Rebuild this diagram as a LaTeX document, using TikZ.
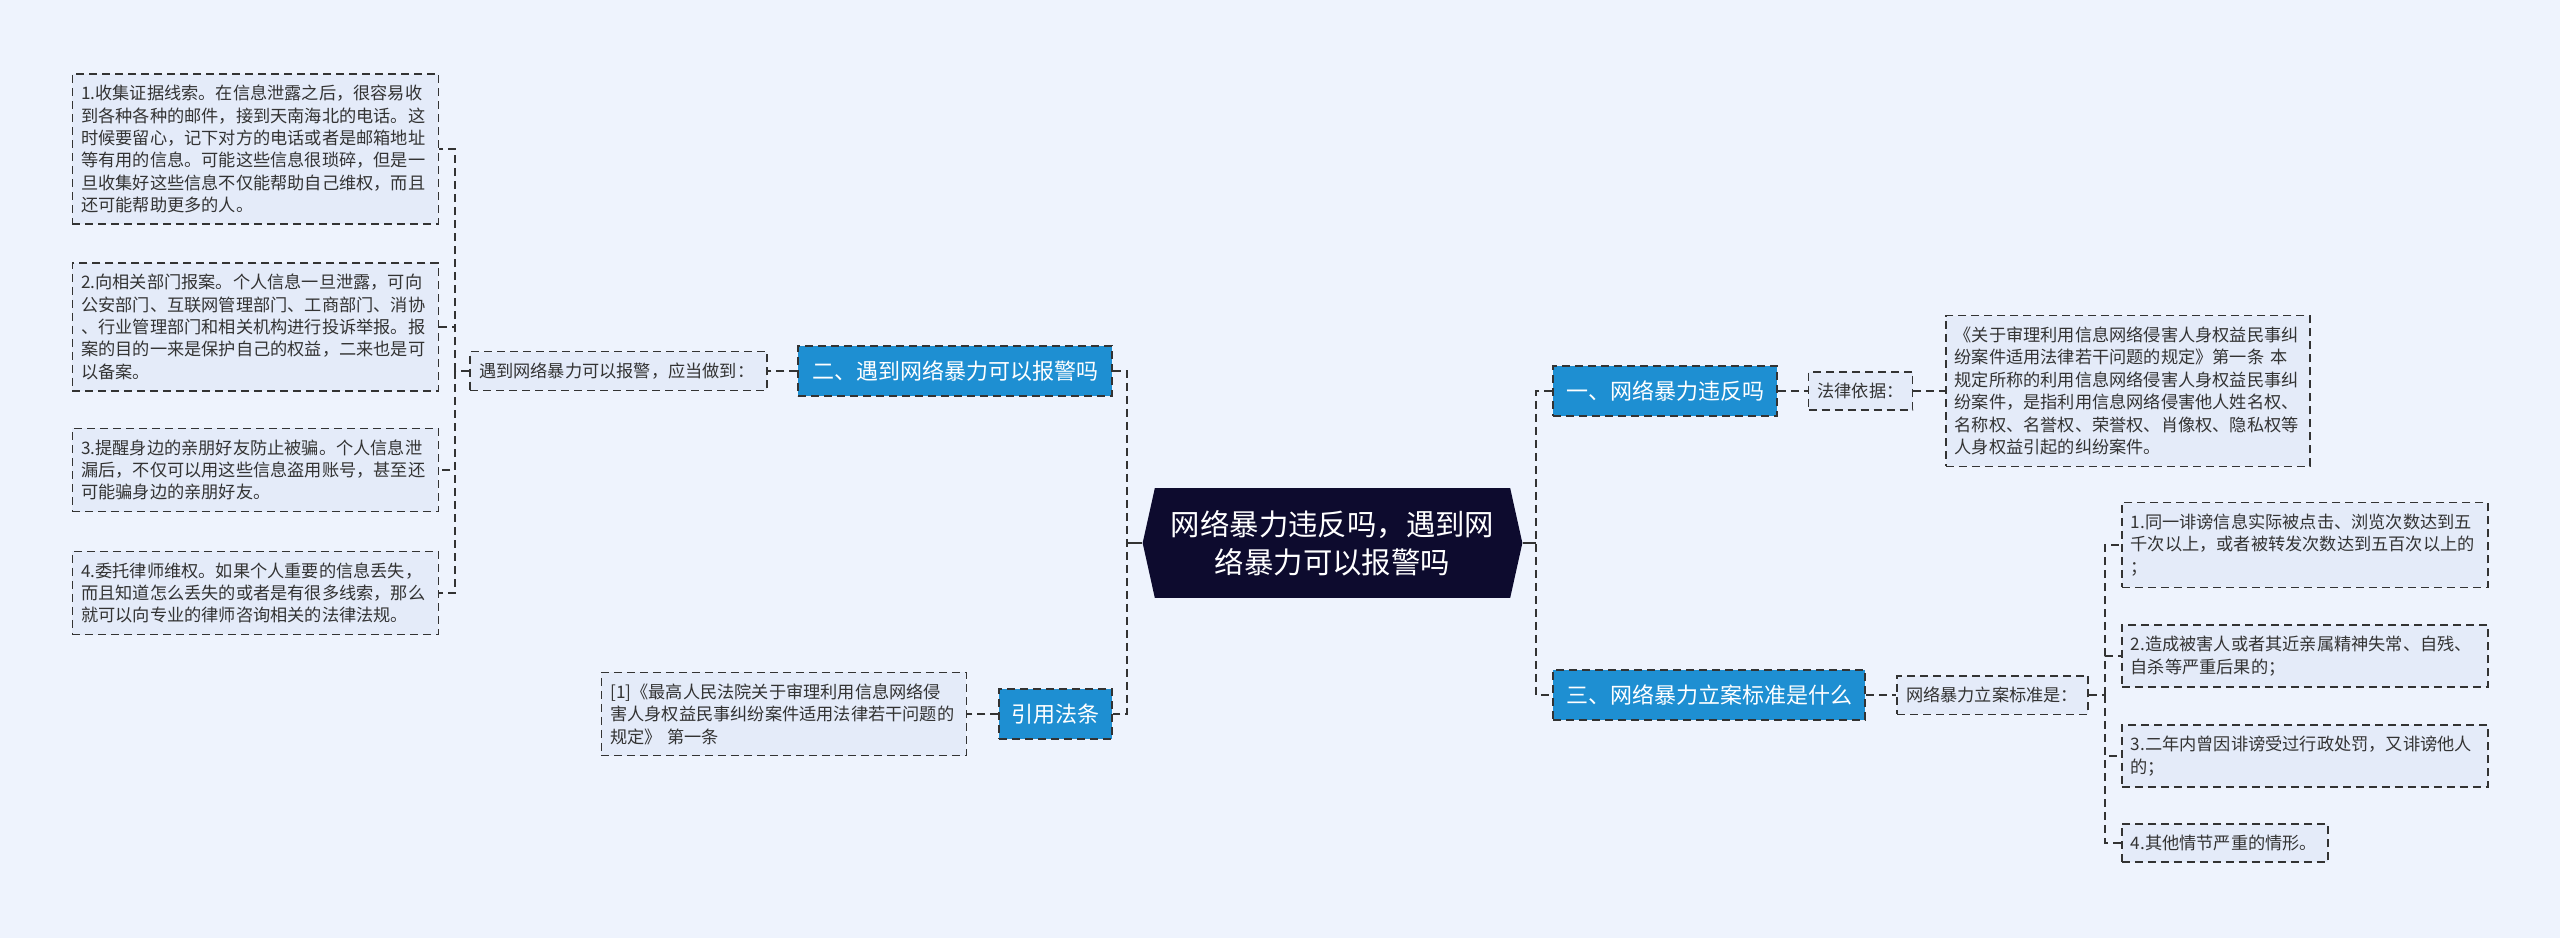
\documentclass[tikz,border=0pt]{standalone}
\usepackage{fontspec}
\setmainfont{Noto Sans CJK SC}
\usetikzlibrary{shapes.symbols}
\definecolor{bgcol}{HTML}{EEF3FD}
\definecolor{leafcol}{HTML}{E4EBF9}
\definecolor{topiccol}{HTML}{1E8FD2}
\definecolor{rootcol}{HTML}{0D0B2E}
\definecolor{edgecol}{HTML}{333333}
\tikzset{
  dashline/.style={draw=edgecol, line width=0.75pt, dash pattern=on 4pt off 2.5pt},
  leaf/.style={dashline, fill=leafcol, text=black!80, font=\fontsize{8.6}{11.2}\selectfont, align=left, inner xsep=4.5pt, inner ysep=5.6pt},
  topic/.style={dashline, fill=topiccol, text=white, font=\fontsize{11}{13}\selectfont, minimum height=25pt, inner xsep=0pt},
  rootnode/.style={signal, signal to=west and east, signal pointer angle=155, fill=rootcol, text=white, font=\fontsize{14.7}{19}\selectfont, align=center, inner xsep=8pt, inner ysep=11pt},
}
\begin{document}
\begin{tikzpicture}[x=0.5pt,y=-0.5pt]
\fill[bgcol] (0,0) rectangle (2560,938);
\node[rootnode] (root) at (1332.5,543) {网络暴力违反吗，遇到网\\络暴力可以报警吗};
\node[topic, minimum width=157pt] (two) at (955,371) {二、遇到网络暴力可以报警吗};
\node[topic, minimum width=56.5pt] (cite) at (1055.5,714) {引用法条};
\node[topic, minimum width=112pt] (one) at (1665,391) {一、网络暴力违反吗};
\node[topic, minimum width=156pt] (three) at (1709,695) {三、网络暴力立案标准是什么};
\node[leaf, text width=139.5pt] (ask) at (618.5,371) {遇到网络暴力可以报警，应当做到：};
\node[leaf, text width=174pt, anchor=east] (b1) at (439,149) {1.收集证据线索。在信息泄露之后，很容易收\\到各种各种的邮件，接到天南海北的电话。这\\时候要留心，记下对方的电话或者是邮箱地址\\等有用的信息。可能这些信息很琐碎，但是一\\旦收集好这些信息不仅能帮助自己维权，而且\\还可能帮助更多的人。};
\node[leaf, text width=174pt, anchor=east] (b2) at (439,327) {2.向相关部门报案。个人信息一旦泄露，可向\\公安部门、互联网管理部门、工商部门、消协\\、行业管理部门和相关机构进行投诉举报。报\\案的目的一来是保护自己的权益，二来也是可\\以备案。};
\node[leaf, text width=174pt, anchor=east] (b3) at (439,470) {3.提醒身边的亲朋好友防止被骗。个人信息泄\\漏后，不仅可以用这些信息盗用账号，甚至还\\可能骗身边的亲朋好友。};
\node[leaf, text width=174pt, anchor=east] (b4) at (439,593) {4.委托律师维权。如果个人重要的信息丢失，\\而且知道怎么丢失的或者是有很多线索，那么\\就可以向专业的律师咨询相关的法律法规。};
\node[leaf, text width=173.5pt, anchor=east] (citetext) at (967,714) {[1]《最高人民法院关于审理利用信息网络侵\\害人身权益民事纠纷案件适用法律若干问题的\\规定》 第一条};
\node[leaf, text width=43pt] (law) at (1860.5,391) {法律依据：};
\node[leaf, text width=173pt, anchor=west] (lawtext) at (1945,391) {《关于审理利用信息网络侵害人身权益民事纠\\纷案件适用法律若干问题的规定》第一条 本\\规定所称的利用信息网络侵害人身权益民事纠\\纷案件，是指利用信息网络侵害他人姓名权、\\名称权、名誉权、荣誉权、肖像权、隐私权等\\人身权益引起的纠纷案件。};
\node[leaf, text width=86.5pt] (std) at (1992.5,695) {网络暴力立案标准是：};
\node[leaf, text width=174pt, anchor=west] (r1) at (2121,545) {1.同一诽谤信息实际被点击、浏览次数达到五\\千次以上，或者被转发次数达到五百次以上的\\；};
\node[leaf, text width=174pt, anchor=west] (r2) at (2121,656) {2.造成被害人或者其近亲属精神失常、自残、\\自杀等严重后果的；};
\node[leaf, text width=174pt, anchor=west] (r3) at (2121,756) {3.二年内曾因诽谤受过行政处罚，又诽谤他人\\的；};
\node[leaf, text width=94pt, anchor=west] (r4) at (2121,843) {4.其他情节严重的情形。};
\coordinate (lj) at (1127,543);
\coordinate (rj) at (1536,543);
\coordinate (lb) at (455,371);
\coordinate (rb) at (2105,695);
\draw[edgecol, line width=0.75pt] (root.west) -- (lj);
\draw[edgecol, line width=0.75pt] (root.east) -- (rj);
\draw[dashline] (two.east) -| (lj) |- (cite.east);
\draw[dashline] (one.west) -| (rj) |- (three.west);
\draw[dashline] (two.west) -- (ask.east);
\draw[dashline] (ask.west) -- (lb);
\foreach \b in {b1,b2,b3,b4} \draw[dashline] (lb) |- (\b.east);
\draw[dashline] (cite.west) -- (citetext.east);
\draw[dashline] (one.east) -- (law.west);
\draw[dashline] (law.east) -- (lawtext.west);
\draw[dashline] (three.east) -- (std.west);
\draw[dashline] (std.east) -- (rb);
\foreach \r in {r1,r2,r3,r4} \draw[dashline] (rb) |- (\r.west);
\end{tikzpicture}
\end{document}
